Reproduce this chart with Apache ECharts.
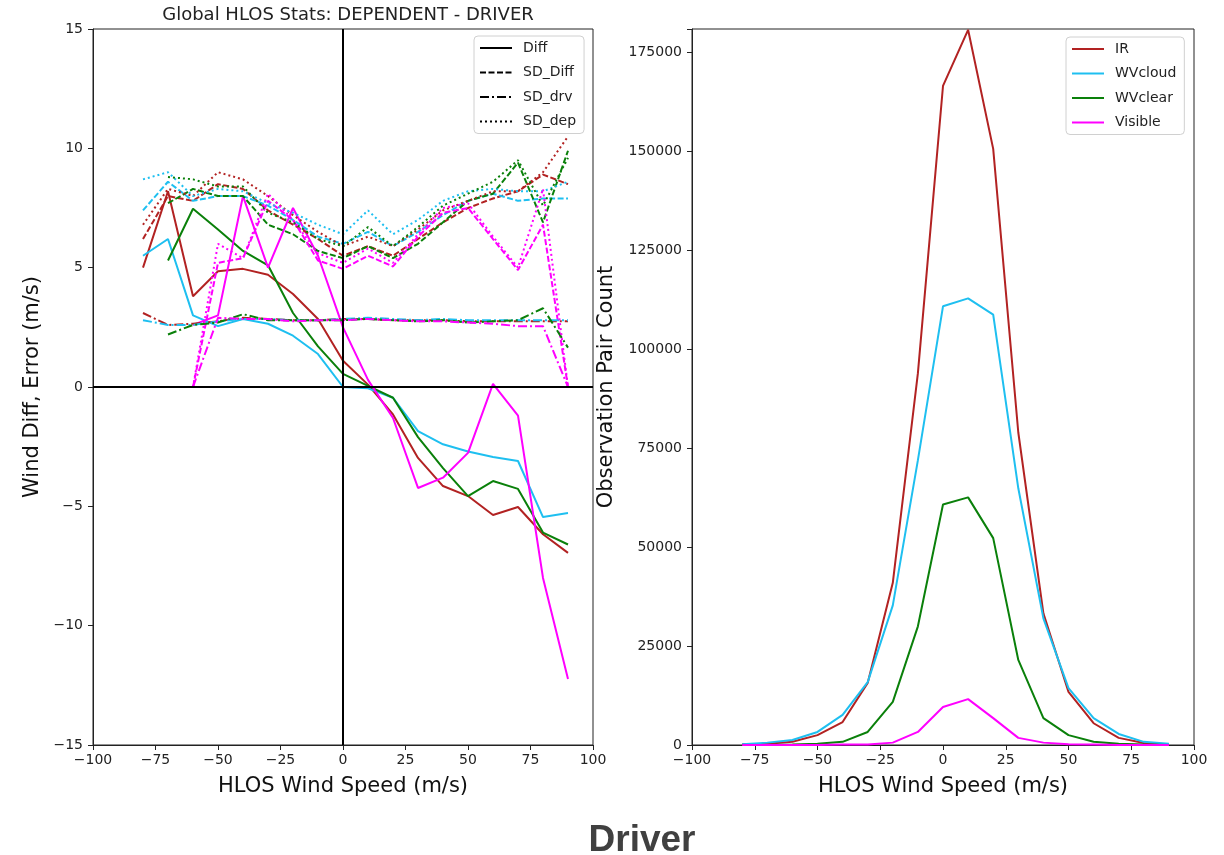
<!DOCTYPE html>
<html>
<head>
<meta charset="utf-8">
<script src="https://cdn.jsdelivr.net/npm/echarts@6/dist/echarts.min.js"></script>
<style>
  html, body { margin: 0; padding: 0; background: #fff; }
  #chart { width: 1224px; height: 855px; }
</style>
</head>
<body>
<div id="chart"></div>
<script>
// wind speed bins (m/s)
var speeds = [-80, -70, -60, -50, -40, -30, -20, -10, 0, 10, 20, 30, 40, 50, 60, 70, 80, 90];

// left panel: Diff (solid)
var irDiff      = [5.0, 8.2, 3.8, 4.85, 4.95, 4.7, 3.9, 2.85, 1.1, 0.1, -1.15, -2.97, -4.15, -4.57, -5.36, -5.03, -6.17, -6.95];
var cloudDiff   = [5.5, 6.2, 3.0, 2.55, 2.85, 2.65, 2.15, 1.38, 0.0, -0.05, -0.45, -1.85, -2.4, -2.7, -2.93, -3.1, -5.45, -5.28];
var clearDiff   = [null, 5.3, 7.47, 6.6, 5.7, 5.1, 3.1, 1.7, 0.55, 0.05, -0.45, -2.1, -3.4, -4.57, -3.94, -4.27, -6.1, -6.6];
var visDiff     = [null, null, 2.6, 3.0, 8.0, 5.0, 7.5, 5.5, 2.5, 0.3, -1.3, -4.23, -3.8, -2.76, 0.13, -1.2, -8.0, -12.23];

// SD_Diff (dashed)
var irSdDiff    = [6.2, 8.0, 7.8, 8.5, 8.3, 7.4, 6.8, 6.2, 5.5, 5.9, 5.5, 6.2, 6.9, 7.5, 7.9, 8.2, 8.9, 8.5];
var cloudSdDiff = [7.4, 8.6, 7.8, 8.0, 8.0, 7.6, 7.0, 6.3, 6.0, 6.5, 5.9, 6.5, 7.2, 7.8, 8.1, 7.8, 7.9, 7.9];
var clearSdDiff = [null, 7.7, 8.3, 8.0, 8.0, 6.8, 6.4, 5.7, 5.4, 5.9, 5.4, 6.0, 6.9, 7.8, 8.1, 9.4, 6.9, 9.9];
var visSdDiff   = [null, null, 0, 5.2, 5.4, 7.8, 7.0, 5.3, 4.95, 5.5, 5.05, 6.3, 7.3, 7.5, 6.2, 4.9, 6.8, 0];

// SD_drv (dash-dot)
var irSdDrv     = [3.1, 2.6, 2.65, 2.75, 2.9, 2.85, 2.8, 2.8, 2.85, 2.85, 2.8, 2.8, 2.8, 2.75, 2.75, 2.75, 2.75, 2.75];
var cloudSdDrv  = [2.8, 2.6, 2.6, 2.75, 2.85, 2.85, 2.8, 2.8, 2.85, 2.9, 2.85, 2.8, 2.85, 2.8, 2.8, 2.8, 2.8, 2.8];
var clearSdDrv  = [null, 2.2, 2.6, 2.7, 3.05, 2.8, 2.8, 2.8, 2.8, 2.85, 2.8, 2.75, 2.8, 2.7, 2.75, 2.8, 3.3, 1.65];
var visSdDrv    = [null, null, 0, 2.9, 2.85, 2.85, 2.75, 2.8, 2.8, 2.85, 2.8, 2.75, 2.75, 2.7, 2.65, 2.55, 2.55, 0];

// SD_dep (dotted)
var irSdDep     = [6.8, 8.3, 8.0, 9.0, 8.7, 8.0, 7.2, 6.5, 5.9, 6.3, 5.9, 6.6, 7.4, 7.8, 8.2, 8.2, 9.0, 10.5];
var cloudSdDep  = [8.7, 9.0, 8.0, 8.3, 8.2, 7.7, 7.3, 6.8, 6.4, 7.4, 6.4, 7.0, 7.8, 8.2, 8.3, 8.2, 8.2, 8.6];
var clearSdDep  = [null, 8.8, 8.7, 8.4, 8.4, 7.3, 6.9, 6.2, 5.9, 6.7, 5.9, 6.7, 7.6, 8.1, 8.6, 9.5, 7.6, 9.6];
var visSdDep    = [null, null, 0, 6.0, 5.4, 8.1, 7.0, 5.6, 5.2, 5.8, 5.2, 6.4, 7.5, 7.7, 6.3, 5.0, 8.3, 0];

// right panel: observation pair counts
var irCount     = [200, 300, 800, 2500, 5800, 15700, 41000, 94000, 166600, 180800, 150700, 79000, 33300, 13400, 5500, 1800, 500, 100];
var cloudCount  = [200, 600, 1260, 3300, 7600, 15900, 35300, 72000, 110900, 112900, 108800, 64900, 32000, 14400, 6800, 2800, 800, 300];
var clearCount  = [0, 0, 100, 300, 800, 3300, 10900, 30000, 60800, 62600, 52300, 21500, 6800, 2500, 800, 300, 100, 0];
var visCount    = [0, 0, 0, 0, 100, 100, 600, 3300, 9600, 11600, 6800, 1800, 600, 200, 100, 0, 0, 0];

var colors = { IR: '#b22222', WVcloud: '#1ebff0', WVclear: '#0a800a', Visible: '#ff00ff' };
var dashes = { solid: 'solid', dashed: [6, 2.5], dashdot: [9, 3, 2, 3], dotted: [2, 3] };
var font = 'DejaVu Sans';

function pairs(ys) {
    var out = [];
    for (var i = 0; i < speeds.length; i++) {
        if (ys[i] !== null) out.push([speeds[i], ys[i]]);
    }
    return out;
}

// matplotlib style minus sign
function minus(v) {
    return String(v).replace('-', '\u2212');
}

function line(name, color, dash, ys, idx) {
    return {
        name: name,
        type: 'line',
        xAxisIndex: idx,
        yAxisIndex: idx,
        data: pairs(ys),
        symbol: 'none',
        showSymbol: false,
        color: color,
        lineStyle: { color: color, width: 2, type: dash, cap: 'butt' },
        animation: false
    };
}

function xAxisOpt(idx) {
    return {
        gridIndex: idx,
        type: 'value',
        min: -100, max: 100, interval: 25,
        name: 'HLOS Wind Speed (m/s)',
        nameLocation: 'middle',
        nameGap: 31,
        nameTextStyle: { fontFamily: font, fontSize: 21, color: '#111' },
        axisLine: { show: true, onZero: false, lineStyle: { color: '#222', width: 1 } },
        axisTick: { show: true, length: 5, lineStyle: { color: '#222' } },
        axisLabel: { fontFamily: font, fontSize: 14, color: '#222', margin: 8, formatter: minus },
        splitLine: { show: false }
    };
}

var chart = echarts.init(document.getElementById('chart'));

var series = [];
// black dummy series for the line-style legend
series.push(line('Diff', '#000', dashes.solid, [], 0));
series.push(line('SD_Diff', '#000', dashes.dashed, [], 0));
series.push(line('SD_drv', '#000', dashes.dashdot, [], 0));
series.push(line('SD_dep', '#000', dashes.dotted, [], 0));

var zeroLines = line('IR Diff', colors.IR, dashes.solid, irDiff, 0);
zeroLines.markLine = {
    silent: true,
    symbol: 'none',
    label: { show: false },
    lineStyle: { color: '#000', width: 2, type: 'solid' },
    data: [{ xAxis: 0 }, { yAxis: 0 }],
    animation: false
};
series.push(zeroLines);
series.push(line('WVcloud Diff', colors.WVcloud, dashes.solid, cloudDiff, 0));
series.push(line('WVclear Diff', colors.WVclear, dashes.solid, clearDiff, 0));
series.push(line('Visible Diff', colors.Visible, dashes.solid, visDiff, 0));

series.push(line('IR SD_Diff', colors.IR, dashes.dashed, irSdDiff, 0));
series.push(line('WVcloud SD_Diff', colors.WVcloud, dashes.dashed, cloudSdDiff, 0));
series.push(line('WVclear SD_Diff', colors.WVclear, dashes.dashed, clearSdDiff, 0));
series.push(line('Visible SD_Diff', colors.Visible, dashes.dashed, visSdDiff, 0));

series.push(line('IR SD_drv', colors.IR, dashes.dashdot, irSdDrv, 0));
series.push(line('WVcloud SD_drv', colors.WVcloud, dashes.dashdot, cloudSdDrv, 0));
series.push(line('WVclear SD_drv', colors.WVclear, dashes.dashdot, clearSdDrv, 0));
series.push(line('Visible SD_drv', colors.Visible, dashes.dashdot, visSdDrv, 0));

series.push(line('IR SD_dep', colors.IR, dashes.dotted, irSdDep, 0));
series.push(line('WVcloud SD_dep', colors.WVcloud, dashes.dotted, cloudSdDep, 0));
series.push(line('WVclear SD_dep', colors.WVclear, dashes.dotted, clearSdDep, 0));
series.push(line('Visible SD_dep', colors.Visible, dashes.dotted, visSdDep, 0));

// right panel
series.push(line('IR', colors.IR, dashes.solid, irCount, 1));
series.push(line('WVcloud', colors.WVcloud, dashes.solid, cloudCount, 1));
series.push(line('WVclear', colors.WVclear, dashes.solid, clearCount, 1));
series.push(line('Visible', colors.Visible, dashes.solid, visCount, 1));

var legendBase = {
    orient: 'vertical',
    backgroundColor: '#fff',
    borderColor: '#d0d0d0',
    borderWidth: 1,
    borderRadius: 4,
    padding: [5, 8, 5, 5],
    itemWidth: 32,
    itemHeight: 13,
    itemGap: 10.5,
    itemStyle: { opacity: 0 },
    textStyle: { fontFamily: font, fontSize: 14, color: '#222', padding: [0, 0, 0, 6] },
    selectedMode: false
};

chart.setOption({
    backgroundColor: '#fff',
    animation: false,
    title: [
        {
            text: 'Global HLOS Stats: DEPENDENT - DRIVER',
            left: 343, top: 1, textAlign: 'center',
            textStyle: { fontFamily: font, fontSize: 18, fontWeight: 'normal', color: '#222' }
        },
        {
            text: 'Driver',
            left: 637, top: 817, textAlign: 'center',
            textStyle: { fontFamily: 'Liberation Sans', fontSize: 37, fontWeight: 'bold', color: '#404040' }
        }
    ],
    legend: [
        Object.assign({}, legendBase, { left: 474, top: 36, data: ['Diff', 'SD_Diff', 'SD_drv', 'SD_dep'] }),
        Object.assign({}, legendBase, { left: 1066, top: 37, data: ['IR', 'WVcloud', 'WVclear', 'Visible'] })
    ],
    grid: [
        { left: 93, top: 29, width: 500, height: 716, show: true, borderColor: '#222', borderWidth: 1, backgroundColor: 'transparent' },
        { left: 692, top: 29, width: 502, height: 716, show: true, borderColor: '#222', borderWidth: 1, backgroundColor: 'transparent' }
    ],
    xAxis: [xAxisOpt(0), xAxisOpt(1)],
    yAxis: [
        {
            gridIndex: 0,
            type: 'value',
            min: -15, max: 15, interval: 5,
            name: 'Wind Diff, Error (m/s)',
            nameLocation: 'middle',
            nameGap: 50,
            nameTextStyle: { fontFamily: font, fontSize: 21, color: '#111' },
            axisLine: { show: true, onZero: false, lineStyle: { color: '#222' } },
            axisTick: { show: true, length: 5, lineStyle: { color: '#222' } },
            axisLabel: { fontFamily: font, fontSize: 14, color: '#222', margin: 10, formatter: minus },
            splitLine: { show: false }
        },
        {
            gridIndex: 1,
            type: 'value',
            min: 0, max: 181000, interval: 25000,
            name: 'Observation Pair Count',
            nameLocation: 'middle',
            nameGap: 75,
            nameTextStyle: { fontFamily: font, fontSize: 21, color: '#111' },
            axisLine: { show: true, onZero: false, lineStyle: { color: '#222' } },
            axisTick: { show: true, length: 5, lineStyle: { color: '#222' } },
            axisLabel: {
                fontFamily: font, fontSize: 14, color: '#222', margin: 10,
                formatter: function (v) { return v % 25000 === 0 ? String(v) : ''; }
            },
            splitLine: { show: false }
        }
    ],
    series: series
});
</script>
</body>
</html>
